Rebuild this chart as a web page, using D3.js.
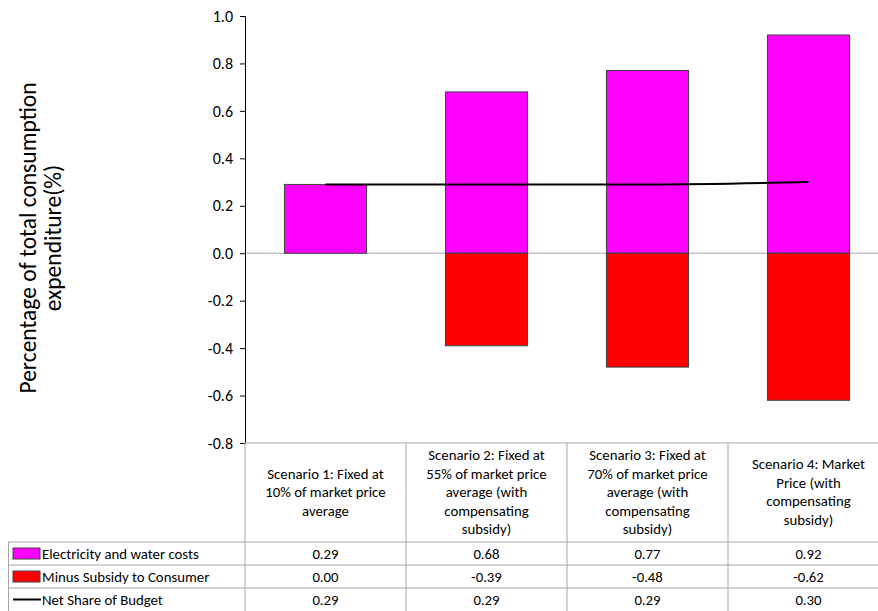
<!DOCTYPE html>
<html lang="en">
<head>
<meta charset="UTF-8">
<title>Net share of budget by scenario</title>
<script src="https://d3js.org/d3.v7.min.js"></script>
<style>
  body { margin: 0; background: #fff; }
  text { font-family: Carlito, Calibri, Lato, "Open Sans", sans-serif; fill: #000; }
</style>
</head>
<body>
<svg id="vis" width="878" height="611"></svg>
<script>
// data
var categories = [
  ["Scenario 1: Fixed at", "10% of market price", "average"],
  ["Scenario 2: Fixed at", "55% of market price", "average (with", "compensating", "subsidy)"],
  ["Scenario 3: Fixed at", "70% of market price", "average (with", "compensating", "subsidy)"],
  ["Scenario 4: Market", "Price (with", "compensating", "subsidy)"]
];
var electricity = [0.29, 0.68, 0.77, 0.92];
var subsidy = [0.00, -0.39, -0.48, -0.62];
var netShare = [0.29, 0.29, 0.29, 0.30];
var seriesNames = ["Electricity and water costs", "Minus Subsidy to Consumer", "Net Share of Budget"];
var yTicks = [-0.8, -0.6, -0.4, -0.2, 0.0, 0.2, 0.4, 0.6, 0.8, 1.0];
var yTitle = ["Percentage of total consumption", "expenditure(%)"];

var svg = d3.select("#vis");
var gridColor = "#a6a6a6";
var tableFont = "14.8px";

// scales
var scaleY = d3.scaleLinear().domain([-0.8, 1.0]).range([443, 16]);
var idx = d3.range(categories.length);
var scaleCol = d3.scaleBand().domain(idx).range([245, 889]);
var scaleBar = d3.scaleBand().domain(idx).range([245, 889]).paddingInner(0.49).paddingOuter(0.245);

// zero line
svg.append("line")
  .attr("x1", 245).attr("x2", 878)
  .attr("y1", scaleY(0)).attr("y2", scaleY(0))
  .attr("stroke", gridColor).attr("stroke-width", 1);

// bars
var gBars = svg.append("g");
gBars.selectAll("rect.elec").data(electricity).join("rect")
  .attr("class", "elec")
  .attr("x", function(d, i) { return scaleBar(i); })
  .attr("width", scaleBar.bandwidth())
  .attr("y", function(d) { return scaleY(d); })
  .attr("height", function(d) { return scaleY(0) - scaleY(d); })
  .attr("fill", "#ff00ff").attr("stroke", "#404040").attr("stroke-width", 1);

gBars.selectAll("rect.sub").data(subsidy.map(function(v, i) { return {v: v, i: i}; }).filter(function(d) { return d.v < 0; }))
  .join("rect")
  .attr("class", "sub")
  .attr("x", function(d) { return scaleBar(d.i); })
  .attr("width", scaleBar.bandwidth())
  .attr("y", scaleY(0))
  .attr("height", function(d) { return scaleY(d.v) - scaleY(0); })
  .attr("fill", "#ff0000").attr("stroke", "#404040").attr("stroke-width", 1);

// net share line
var line = d3.line()
  .x(function(d, i) { return scaleCol(i) + scaleCol.bandwidth() / 2; })
  .y(function(d) { return scaleY(d); })
  .curve(d3.curveMonotoneX);
svg.append("path").datum(netShare)
  .attr("d", line)
  .attr("fill", "none").attr("stroke", "#000").attr("stroke-width", 2);

// y axis
var yAxis = d3.axisLeft(scaleY).tickValues(yTicks).tickSize(5).tickPadding(7)
  .tickFormat(function(d) { return d.toFixed(1); });
var gy = svg.append("g").attr("transform", "translate(245,0)").call(yAxis);
gy.select(".domain").attr("stroke", "#000");
gy.selectAll(".tick line").attr("stroke", "#000");
gy.selectAll("text").style("font-size", "16px").attr("fill", "#000");

// y title
var yt = svg.append("text")
  .attr("transform", "translate(40,238) rotate(-90)")
  .attr("text-anchor", "middle")
  .style("font-size", "23.5px");
yTitle.forEach(function(t, i) {
  yt.append("tspan").attr("x", 0).attr("dy", i === 0 ? "-0.15em" : "1.05em").text(t);
});

// data table
var rowTop = [542, 565, 588];
var rowH = 23;
var gT = svg.append("g");

// horizontal lines
gT.append("line").attr("x1", 245).attr("x2", 878).attr("y1", 443).attr("y2", 443)
  .attr("stroke", gridColor);
rowTop.forEach(function(y) {
  gT.append("line").attr("x1", 8).attr("x2", 878).attr("y1", y).attr("y2", y)
    .attr("stroke", gridColor);
});
// vertical lines
gT.append("line").attr("x1", 8.5).attr("x2", 8.5).attr("y1", 542).attr("y2", 611).attr("stroke", gridColor);
gT.append("line").attr("x1", 245).attr("x2", 245).attr("y1", 443).attr("y2", 611).attr("stroke", gridColor);
idx.slice(1).forEach(function(i) {
  gT.append("line").attr("x1", scaleCol(i)).attr("x2", scaleCol(i))
    .attr("y1", 443).attr("y2", 611).attr("stroke", gridColor);
});

// category labels
categories.forEach(function(lines, i) {
  var cx = scaleCol(i) + scaleCol.bandwidth() / 2;
  var lh = 18.5;
  var y0 = 492 - (lines.length - 1) * lh / 2;
  var t = gT.append("text").attr("text-anchor", "middle").style("font-size", tableFont);
  lines.forEach(function(s, j) {
    t.append("tspan").attr("x", cx).attr("y", y0 + j * lh).attr("dy", "0.35em").text(s);
  });
});

// row values
var rows = [electricity, subsidy, netShare];
rows.forEach(function(vals, r) {
  vals.forEach(function(v, i) {
    gT.append("text")
      .attr("x", scaleCol(i) + scaleCol.bandwidth() / 2)
      .attr("y", rowTop[r] + rowH / 2).attr("dy", "0.35em")
      .attr("text-anchor", "middle").style("font-size", tableFont)
      .text(v.toFixed(2));
  });
});

// legend keys
gT.append("rect").attr("x", 13).attr("y", 548).attr("width", 27).attr("height", 11)
  .attr("fill", "#ff00ff").attr("stroke", "#404040").attr("stroke-width", 1);
gT.append("rect").attr("x", 13).attr("y", 571).attr("width", 27).attr("height", 11)
  .attr("fill", "#ff0000").attr("stroke", "#404040").attr("stroke-width", 1);
gT.append("line").attr("x1", 13).attr("x2", 41).attr("y1", 599.5).attr("y2", 599.5)
  .attr("stroke", "#000").attr("stroke-width", 2);
seriesNames.forEach(function(n, r) {
  gT.append("text").attr("x", 42).attr("y", rowTop[r] + rowH / 2).attr("dy", "0.35em")
    .style("font-size", tableFont).text(n);
});
</script>
</body>
</html>
